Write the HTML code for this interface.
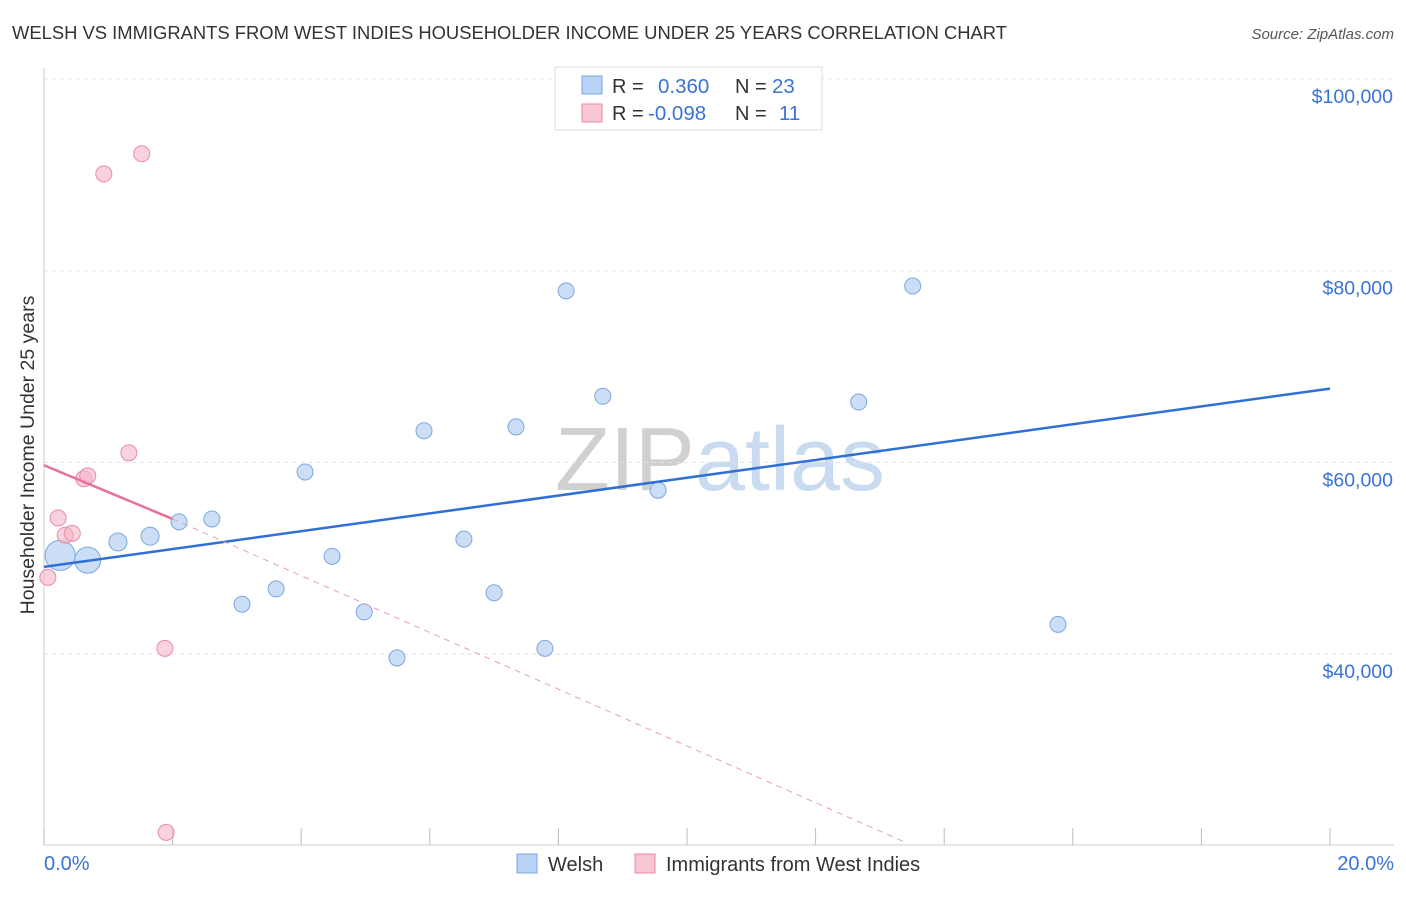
<!DOCTYPE html>
<html><head><meta charset="utf-8"><style>
body{margin:0;background:#fff;font-family:"Liberation Sans",sans-serif;}
svg text{font-family:"Liberation Sans",sans-serif;}
</style></head><body>
<svg id="c" width="1406" height="892" xmlns="http://www.w3.org/2000/svg">
<text x="12" y="39" font-size="18" fill="#333" textLength="995" lengthAdjust="spacingAndGlyphs">WELSH VS IMMIGRANTS FROM WEST INDIES HOUSEHOLDER INCOME UNDER 25 YEARS CORRELATION CHART</text>
<text x="1394" y="39" font-size="15" fill="#555" font-style="italic" text-anchor="end">Source: ZipAtlas.com</text>
<text x="720" y="490" font-size="90" fill="#d8d8d8" text-anchor="middle" font-family="Liberation Serif"><tspan fill="#d0d0d0">ZIP</tspan><tspan fill="#c9dbf0">atlas</tspan></text>
<text transform="translate(34,455) rotate(-90)" font-size="19.5" fill="#333" text-anchor="middle">Householder Income Under 25 years</text>
<g id="grid"></g><g id="marks"></g>
<g>
<rect x="555" y="67" width="267" height="63" fill="#fff" stroke="#ddd"/>
<rect x="582" y="76" width="20" height="18" fill="#b8d3f5" stroke="#7aa7e0"/>
<text x="612" y="93" font-size="20" fill="#333">R =</text><text x="658" y="93" font-size="20.5" fill="#3a73d6">0.360</text>
<text x="735" y="93" font-size="20" fill="#333">N =</text><text x="772" y="93" font-size="20.5" fill="#3a73d6">23</text>
<rect x="582" y="104" width="20" height="18" fill="#f9c6d4" stroke="#e88aa5"/>
<text x="612" y="120" font-size="20" fill="#333">R =</text><text x="648" y="120" font-size="20.5" fill="#3a73d6">-0.098</text>
<text x="735" y="120" font-size="20" fill="#333">N =</text><text x="779" y="120" font-size="20.5" fill="#3a73d6">11</text>
</g>
<text x="44" y="870" font-size="20" fill="#3a73d6">0.0%</text>
<text x="1394" y="870" font-size="20" fill="#3a73d6" text-anchor="end">20.0%</text>
<g>
<rect x="517" y="854" width="20" height="19" fill="#b8d3f5" stroke="#7aa7e0"/>
<text x="548" y="871" font-size="20" fill="#333">Welsh</text>
<rect x="635" y="854" width="20" height="19" fill="#f9c6d4" stroke="#e88aa5"/>
<text x="666" y="871" font-size="20" fill="#333">Immigrants from West Indies</text>
</g>
</svg>
<script>
const yTicks=[40000,60000,80000,100000];
const yTickLabels=["$40,000","$60,000","$80,000","$100,000"];
const xTicks=[0,2,4,6,8,10,12,14,16,18,20];
const welshX=[0.25,0.68,1.15,1.65,2.10,2.61,3.08,3.61,4.06,4.48,4.98,5.49,5.91,6.53,7.00,7.34,7.79,8.12,8.69,9.55,12.67,13.51,15.77];
const welshY=[50300,49800,51700,52300,53800,54100,45200,46800,59000,50200,44400,39600,63300,52000,46400,63700,40600,77900,66900,57100,66300,78400,43100];
const welshR=[15,13,9,9,8,8,8,8,8,8,8,8,8,8,8,8,8,8,8,8,8,8,8];
const wiX=[0.06,0.22,0.33,0.44,0.62,0.68,0.93,1.32,1.52,1.88,1.90];
const wiY=[48000,54200,52400,52600,58300,58600,90100,61000,92200,40600,21400];
const welshLine=[49100,67700];
const wiLine=[59700,-2800];
const X=v=>44+v*64.3, Y=v=>79+(100000-v)*0.009585;
const NS="http://www.w3.org/2000/svg";
const grid=document.getElementById('grid'), marks=document.getElementById('marks');
function mk(p,tag,a){const e=document.createElementNS(NS,tag);for(const k in a)e.setAttribute(k,a[k]);p.appendChild(e);return e;}
let e=mk(grid,'line',{x1:44,y1:68,x2:44,y2:845,stroke:'#ccc'});


e=mk(grid,'line',{x1:44,y1:845,x2:1394,y2:845,stroke:'#ccc'});


yTicks.forEach((t,i)=>{
 let g=mk(grid,'line',{x1:44,x2:1394,y1:Y(t),y2:Y(t),stroke:'#e3e3e3','stroke-dasharray':'4,4'});
 
 
 let tx=mk(grid,'text',{x:1393,y:Y(t)+24,'font-size':19.5,fill:'#3a73d6','text-anchor':'end'});tx.textContent=yTickLabels[i];
 
 
});
xTicks.forEach(t=>{
 let l=mk(grid,'line',{x1:X(t),x2:X(t),y1:828,y2:845,stroke:'#bbb'});
 
 
});
welshX.forEach((x,i)=>{
 let c=mk(marks,'circle',{cx:X(x),cy:Y(welshY[i]),r:welshR[i],fill:'rgba(169,200,240,0.6)',stroke:'#7aa7e0','stroke-width':1});
 
 
});
wiX.forEach((x,i)=>{
 let c=mk(marks,'circle',{cx:X(x),cy:Y(wiY[i]),r:8,fill:'rgba(244,182,200,0.6)',stroke:'#e88aa5','stroke-width':1});
 
 
});
let bl=mk(marks,'line',{x1:X(0),y1:Y(welshLine[0]),x2:X(20),y2:Y(welshLine[1]),stroke:'#2f6fd6','stroke-width':2.5});


const wiAt=x=>wiLine[0]+wiLine[1]*x;
const xEnd=13.42;
let pl=mk(marks,'line',{x1:X(0),y1:Y(wiAt(0)),x2:X(2),y2:Y(wiAt(2)),stroke:'#e8709a','stroke-width':2.5});


let pd=mk(marks,'line',{x1:X(2),y1:Y(wiAt(2)),x2:X(xEnd),y2:843,stroke:'#e8a0b8','stroke-width':1,'stroke-dasharray':'6,5'});


</script>
</body></html>
